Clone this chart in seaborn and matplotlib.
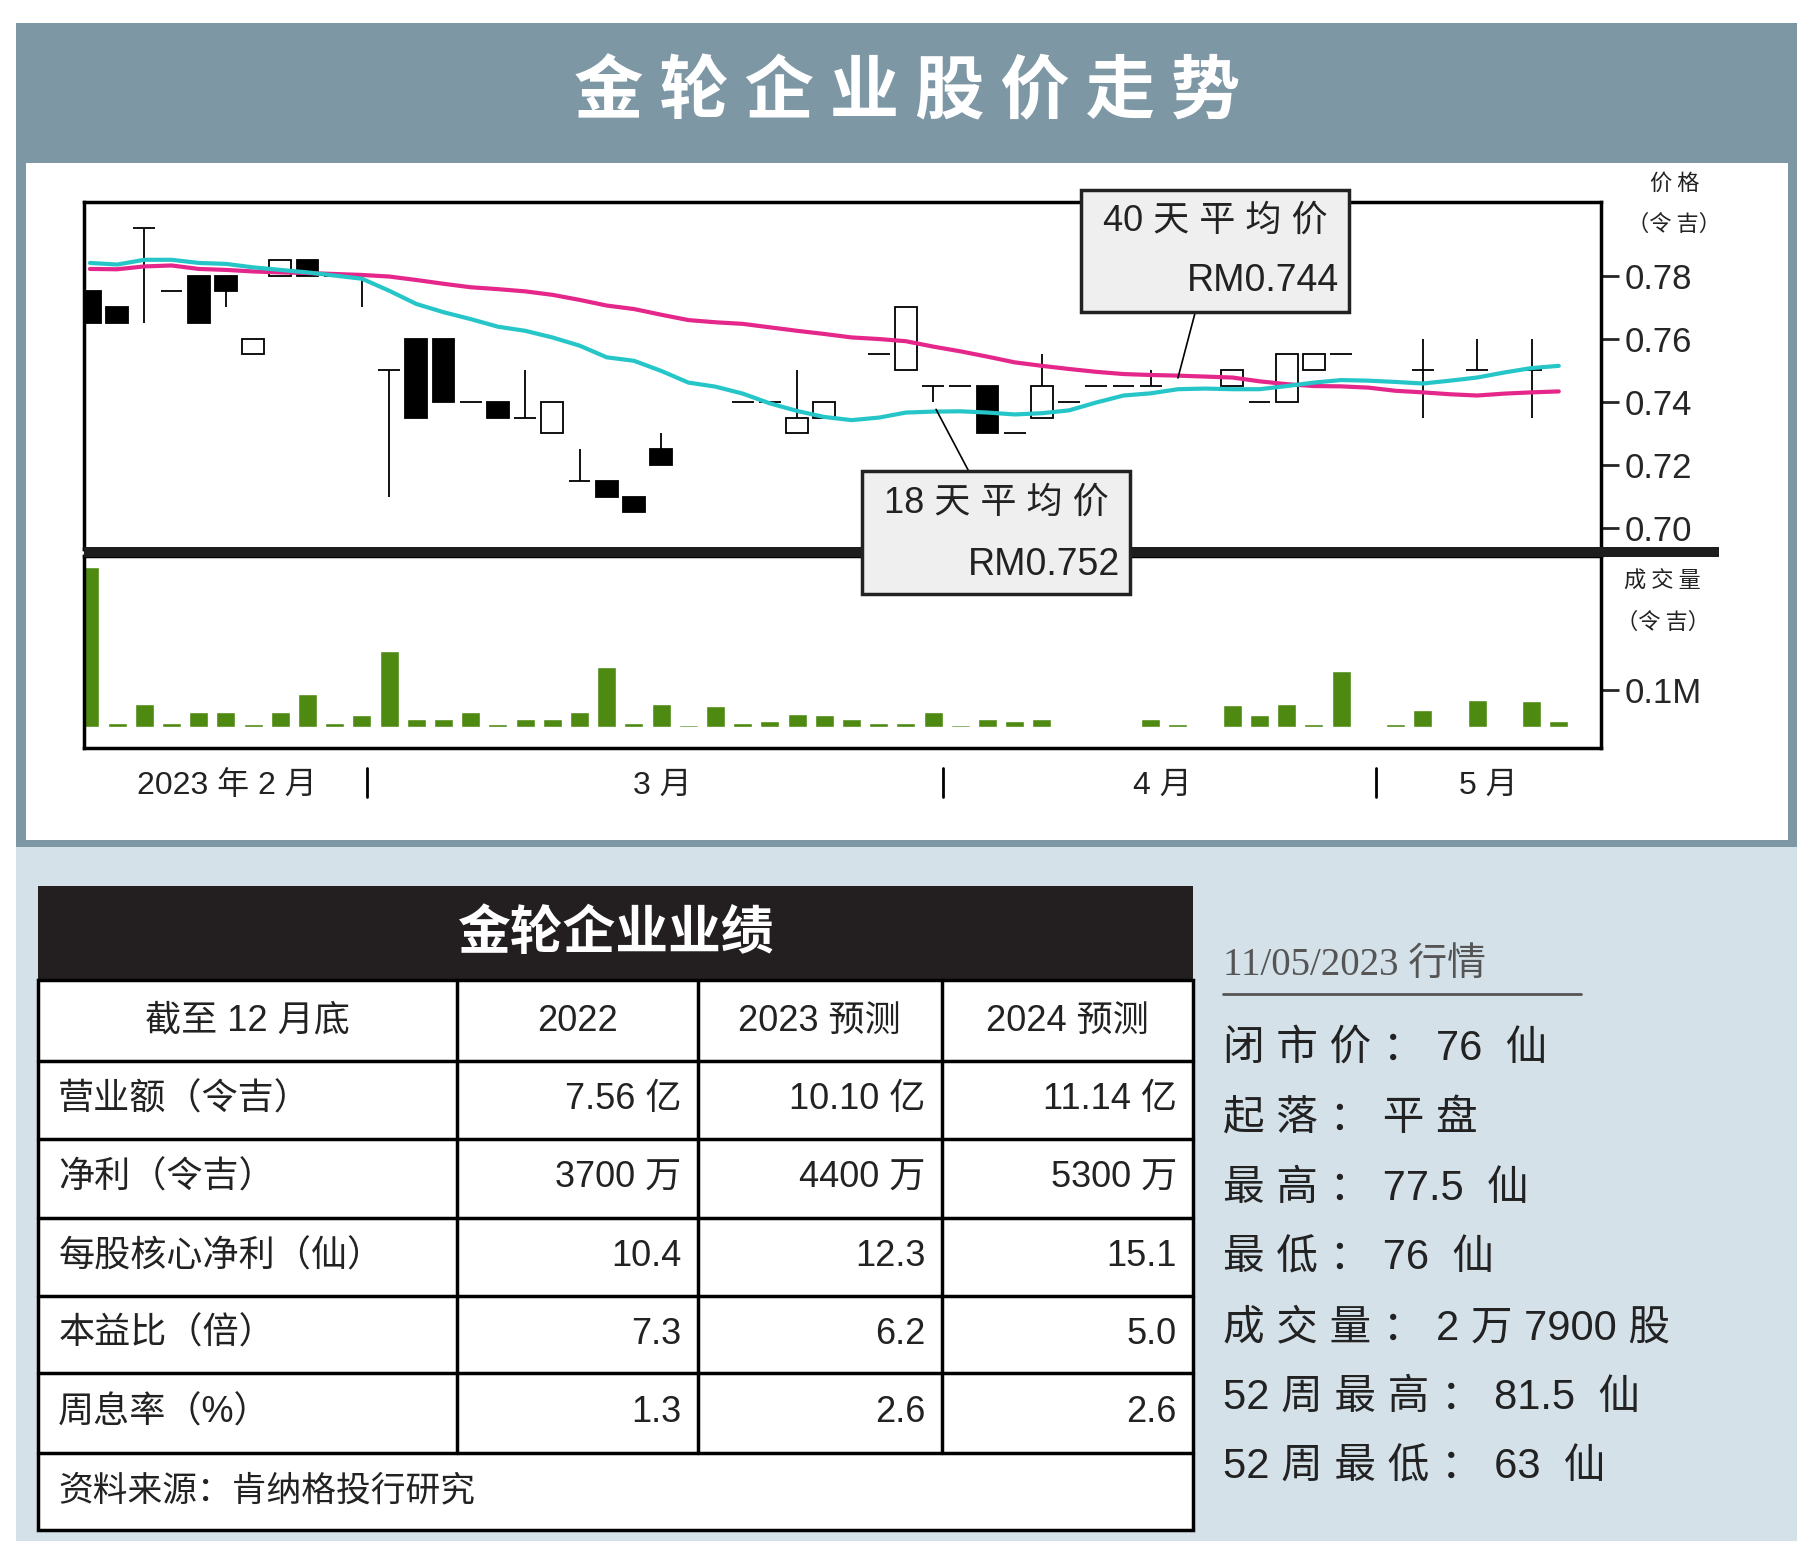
"""金轮企业股价走势 chart recreation."""

import matplotlib

matplotlib.use("Agg")
import matplotlib.pyplot as plt
import numpy as np
import pandas as pd
import seaborn as sns
from matplotlib.patches import Rectangle

nan = np.nan
OPENS = [0.775, 0.77, 0.795, 0.775, 0.78, 0.78, 0.755, 0.78, 0.785, 0.78, 0.78, 0.75, 0.76, 0.76, 0.74, 0.74,
         0.735, 0.73, 0.715, 0.715, 0.71, 0.725, nan, nan, 0.74, 0.74, 0.73, 0.735, nan, 0.755, 0.75, 0.745,
         0.745, 0.745, 0.73, 0.735, 0.74, 0.745, 0.745, 0.745, nan, nan, 0.745, 0.74, 0.74, 0.75, 0.755, nan,
         nan, 0.75, nan, 0.75, nan, 0.75, nan]
CLOSES = [0.765, 0.765, 0.795, 0.775, 0.765, 0.775, 0.76, 0.785, 0.78, 0.78, 0.78, 0.75, 0.735, 0.74, 0.74, 0.735,
          0.735, 0.74, 0.715, 0.71, 0.705, 0.72, nan, nan, 0.74, 0.74, 0.735, 0.74, nan, 0.755, 0.77, 0.745,
          0.745, 0.73, 0.73, 0.745, 0.74, 0.745, 0.745, 0.745, nan, nan, 0.75, 0.74, 0.755, 0.755, 0.755, nan,
          nan, 0.75, nan, 0.75, nan, 0.75, nan]
HIGHS = [0.775, 0.77, 0.795, 0.775, 0.78, 0.78, 0.76, 0.785, 0.785, 0.78, 0.78, 0.75, 0.76, 0.76, 0.74, 0.74,
         0.75, 0.74, 0.725, 0.715, 0.71, 0.73, nan, nan, 0.74, 0.74, 0.75, 0.74, nan, 0.755, 0.77, 0.745,
         0.745, 0.745, 0.73, 0.755, 0.74, 0.745, 0.745, 0.75, nan, nan, 0.75, 0.74, 0.755, 0.755, 0.755, nan,
         nan, 0.76, nan, 0.76, nan, 0.76, nan]
LOWS = [0.765, 0.765, 0.765, 0.775, 0.765, 0.77, 0.755, 0.78, 0.78, 0.78, 0.77, 0.71, 0.735, 0.74, 0.74, 0.735,
        0.735, 0.73, 0.715, 0.71, 0.705, 0.72, nan, nan, 0.74, 0.74, 0.73, 0.735, nan, 0.755, 0.75, 0.74,
        0.745, 0.73, 0.73, 0.735, 0.74, 0.745, 0.745, 0.745, nan, nan, 0.745, 0.74, 0.74, 0.75, 0.755, nan,
        nan, 0.735, nan, 0.75, nan, 0.735, nan]
MA18 = [0.784, 0.7835, 0.785, 0.785, 0.784, 0.7837, 0.7826, 0.7818, 0.781, 0.78, 0.779, 0.7752, 0.771, 0.7684,
        0.7662, 0.7638, 0.7625, 0.7604, 0.7578, 0.7541, 0.753, 0.7498, 0.7461, 0.7448, 0.7426, 0.7395, 0.7371,
        0.7352, 0.7342, 0.735, 0.7366, 0.7369, 0.737, 0.7366, 0.736, 0.7364, 0.7373, 0.7398, 0.742, 0.7427,
        0.744, 0.7442, 0.744, 0.744, 0.745, 0.7461, 0.7469, 0.7467, 0.7463, 0.7458, 0.7467, 0.7477, 0.7493,
        0.7507, 0.7514]
MA40 = [0.7821, 0.782, 0.7829, 0.7832, 0.7821, 0.7818, 0.7813, 0.781, 0.7808, 0.7805, 0.7802, 0.7797, 0.7786,
        0.7774, 0.7763, 0.7757, 0.775, 0.7739, 0.7723, 0.7705, 0.7694, 0.7676, 0.7659, 0.7652, 0.7647, 0.7636,
        0.7625, 0.7615, 0.7604, 0.7599, 0.7592, 0.7575, 0.756, 0.7543, 0.7525, 0.7514, 0.7504, 0.7495, 0.7488,
        0.7485, 0.7483, 0.748, 0.7477, 0.7465, 0.7456, 0.745, 0.7449, 0.7445, 0.7435, 0.743, 0.7424, 0.742,
        0.7426, 0.743, 0.7433]
VOLUME_M = [0.436, 0.011, 0.062, 0.011, 0.04, 0.04, 0.007, 0.04, 0.089, 0.011, 0.031, 0.205, 0.02, 0.02, 0.04,
            0.007, 0.02, 0.02, 0.04, 0.162, 0.011, 0.062, 0.003, 0.055, 0.011, 0.016, 0.035, 0.031, 0.02, 0.009,
            0.011, 0.04, 0.004, 0.02, 0.016, 0.02, 0.002, 0.002, 0.002, 0.02, 0.007, 0.002, 0.058, 0.031, 0.062,
            0.007, 0.151, 0.002, 0.007, 0.045, 0.002, 0.073, 0.002, 0.07, 0.016]
PRICE_TICKS = [0.70, 0.72, 0.74, 0.76, 0.78]
MONTH_LABELS = [("2023 年 2 月", 195), ("3 月", 570), ("4 月", 1000), ("5 月", 1280)]
MONTH_DIVIDERS = [316, 811, 1183]

TABLE_HEADER = ["截至 12 月底", "2022", "2023 预测", "2024 预测"]
TABLE_ROWS = [
    ["营业额（令吉）", "7.56 亿", "10.10 亿", "11.14 亿"],
    ["净利（令吉）", "3700 万", "4400 万", "5300 万"],
    ["每股核心净利（仙）", "10.4", "12.3", "15.1"],
    ["本益比（倍）", "7.3", "6.2", "5.0"],
    ["周息率（%）", "1.3", "2.6", "2.6"],
]
SOURCE = "资料来源：肯纳格投行研究"
QUOTE_DATE = "11/05/2023 行情"
QUOTES = ["闭 市 价 ： 76  仙", "起 落 ： 平 盘", "最 高 ： 77.5  仙", "最 低 ： 76  仙",
          "成 交 量 ： 2 万 7900 股", "52 周 最 高 ： 81.5  仙", "52 周 最 低 ： 63  仙"]

sns.set_theme(style="white")
plt.rcParams["font.family"] = ["Liberation Sans", "Noto Sans CJK SC", "DejaVu Sans"]
CJK = ["Noto Sans CJK SC", "DejaVu Sans"]

W, H = 1560, 1344
HEADER_BLUE = "#7d97a5"
LIGHT_BLUE = "#d5e1e9"


def fx(x):
    return x / W


def fy(y):
    return 1 - y / H


fig = plt.figure(figsize=(18.14, 15.63), dpi=100)


def rect(x0, y0, x1, y1, **kw):
    fig.patches.append(Rectangle((fx(x0), fy(y1)), (x1 - x0) / W, (y1 - y0) / H,
                                 transform=fig.transFigure, **kw))


def text(x, y, s, **kw):
    fig.text(fx(x), fy(y), s, **kw)


# backgrounds
rect(14, 20, 1545, 1325, facecolor=LIGHT_BLUE, edgecolor="none", zorder=-3)
rect(14, 20, 1545, 728, facecolor=HEADER_BLUE, edgecolor="none", zorder=-2)
rect(22, 140, 1538, 722, facecolor="white", edgecolor="none", zorder=-1)
text(780, 80, "金 轮 企 业 股 价 走 势", fontsize=50, fontweight="bold", color="white",
     ha="center", va="center", family=CJK)

# price axes
ax = fig.add_axes([fx(72), fy(472), (1377 - 72) / W, (472 - 174) / H])
ax.set_facecolor("white")
x = np.arange(len(OPENS))
for i in x:
    o, c, h, l = OPENS[i], CLOSES[i], HIGHS[i], LOWS[i]
    if np.isnan(o):
        continue
    if h > l:
        ax.vlines(i, l, h, color="black", lw=1.3, zorder=2)
    if o == c:
        ax.hlines(o, i - 0.4, i + 0.4, color="black", lw=1.3, zorder=3)
    else:
        ax.bar(i, abs(c - o), bottom=min(o, c), width=0.8, zorder=3, linewidth=1.3, edgecolor="black",
               facecolor="white" if c > o else "black")
ma_df = pd.DataFrame({"day": np.arange(len(MA18)), "ma18": MA18, "ma40": MA40})
sns.lineplot(data=ma_df, x="day", y="ma40", ax=ax, color="#e5268a", lw=3, zorder=4)
sns.lineplot(data=ma_df, x="day", y="ma18", ax=ax, color="#26c6c8", lw=3, zorder=4)
ax.set_xlim(-0.23, 55.56)
ax.set_ylim(0.6934, 0.8032)
ax.set_xticks([])
ax.set_xlabel("")
ax.set_ylabel("")
ax.yaxis.tick_right()
ax.set_yticks(PRICE_TICKS, [f"{t:.2f}" for t in PRICE_TICKS], fontsize=25)
ax.tick_params(axis="y", direction="out", length=13, width=2, right=True, left=False, pad=4)
for s in ax.spines.values():
    s.set_color("black")
    s.set_linewidth(2.5)

# volume axes
vax = fig.add_axes([fx(72), fy(643), (1377 - 72) / W, (643 - 478) / H])
vol_df = pd.DataFrame({"day": np.arange(len(VOLUME_M)), "vol": VOLUME_M})
sns.barplot(data=vol_df, x="day", y="vol", ax=vax, color="#4e8a12", saturation=1, width=0.7,
            native_scale=True)
vax.set_xlim(-0.23, 55.56)
vax.set_ylim(-0.058, 0.466)
vax.set_xticks([])
vax.set_xlabel("")
vax.set_ylabel("")
vax.yaxis.tick_right()
vax.set_yticks([0.1], ["0.1M"], fontsize=25)
vax.tick_params(axis="y", direction="out", length=13, width=2, right=True, left=False, pad=4)
for s in vax.spines.values():
    s.set_color("black")
    s.set_linewidth(2.5)

# divider bar between panels
rect(72, 470, 1478, 479, facecolor="#1e1e1e", edgecolor="none", zorder=3)

text(1440, 158, "价 格", fontsize=16, ha="center", va="center", family=CJK, color="#222")
text(1440, 193, "（令 吉）", fontsize=16, ha="center", va="center", family=CJK, color="#222")
text(1430, 500, "成 交 量", fontsize=16, ha="center", va="center", family=CJK, color="#222")
text(1430, 535, "（令 吉）", fontsize=16, ha="center", va="center", family=CJK, color="#222")

for label, xpos in MONTH_LABELS:
    text(xpos, 676, label, fontsize=23, ha="center", va="center", color="#222")
for xpos in MONTH_DIVIDERS:
    fig.add_artist(plt.Line2D([fx(xpos), fx(xpos)], [fy(660), fy(685)], color="black", lw=2,
                              transform=fig.transFigure))

# callouts
fig.add_artist(plt.Line2D([fx(1028), fx(1013)], [fy(268), fy(325)], color="black", lw=1.2,
                          transform=fig.transFigure, zorder=5))
rect(930, 163, 1160, 268, facecolor="#efefef", edgecolor="#222", lw=2.5, zorder=6)
text(1045, 190, "40 天 平 均 价", fontsize=26, ha="center", va="center", color="#222", zorder=7)
text(1152, 242, "RM0.744", fontsize=27, ha="right", va="center", color="#222", zorder=7)
fig.add_artist(plt.Line2D([fx(805), fx(833)], [fy(352), fy(405)], color="black", lw=1.2,
                          transform=fig.transFigure, zorder=5))
rect(741, 405, 972, 511, facecolor="#efefef", edgecolor="#222", lw=2.5, zorder=6)
text(857, 433, "18 天 平 均 价", fontsize=26, ha="center", va="center", color="#222", zorder=7)
text(963, 486, "RM0.752", fontsize=27, ha="right", va="center", color="#222", zorder=7)

# results table
rect(33, 762, 1026, 843, facecolor="#231f20", edgecolor="none")
text(530, 803, "金轮企业业绩", fontsize=38, fontweight="bold", color="white", ha="center", va="center",
     family=CJK)
rect(33, 843, 1026, 1316, facecolor="white", edgecolor="black", lw=2.5)
row_edges = [843, 912, 979, 1047, 1114, 1181, 1249, 1316]
col_edges = [33, 393, 600, 810, 1026]
for ye in row_edges[1:-1]:
    fig.add_artist(plt.Line2D([fx(33), fx(1026)], [fy(ye), fy(ye)], color="black", lw=2.5,
                              transform=fig.transFigure))
for xe in col_edges[1:-1]:
    fig.add_artist(plt.Line2D([fx(xe), fx(xe)], [fy(843), fy(1249)], color="black", lw=2.5,
                              transform=fig.transFigure))
for j, head in enumerate(TABLE_HEADER):
    cx = (col_edges[j] + col_edges[j + 1]) / 2
    text(cx, 878, head, fontsize=26, ha="center", va="center", color="#222")
for r, row in enumerate(TABLE_ROWS):
    cy = (row_edges[r + 1] + row_edges[r + 2]) / 2
    text(50, cy, row[0], fontsize=26, ha="left", va="center", color="#222")
    for j in range(1, 4):
        text(col_edges[j + 1] - 14, cy, row[j], fontsize=26, ha="right", va="center", color="#222")
text(50, 1282, SOURCE, fontsize=25, ha="left", va="center", color="#222", family=CJK)

# quote panel
text(1052, 830, QUOTE_DATE, fontsize=28, ha="left", va="center", color="#555",
     family=["Liberation Serif", "Noto Sans CJK SC"])
fig.add_artist(plt.Line2D([fx(1052), fx(1360)], [fy(855), fy(855)], color="#555", lw=2,
                          transform=fig.transFigure))
for k, line in enumerate(QUOTES):
    text(1052, 902 + 60 * k, line, fontsize=30, ha="left", va="center", color="#222")

fig.savefig("out.png", dpi=100)
